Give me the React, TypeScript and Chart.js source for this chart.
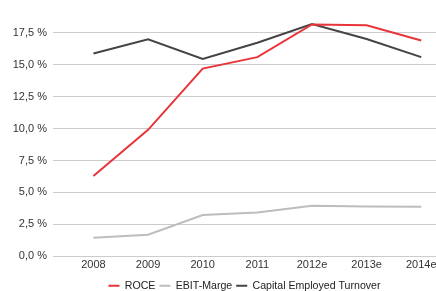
import React, { useEffect, useRef } from "react";
import { Chart, registerables } from "chart.js";

Chart.register(...registerables);

const categories = ["2008", "2009", "2010", "2011", "2012e", "2013e", "2014e"];
const roce = [6.28, 9.9, 14.7, 15.6, 18.16, 18.1, 16.9];
const ebitMarge = [1.45, 1.68, 3.22, 3.43, 3.95, 3.9, 3.88];
const capitalTurnover = [15.89, 17.0, 15.46, 16.73, 18.2, 17.02, 15.6];
const yTicks = [0, 2.5, 5, 7.5, 10, 12.5, 15, 17.5];

const toPoints = (arr: number[]) => arr.map((v, i) => ({ x: i, y: v }));
const FONT = "Liberation Sans, Arial, sans-serif";

export default function App() {
  const ref = useRef<HTMLCanvasElement | null>(null);
  useEffect(() => {
    document.body.style.margin = "0";
    const ctx = ref.current!;
    const mk = (label: string, data: number[], color: string) => ({
      label,
      data: toPoints(data),
      borderColor: color,
      backgroundColor: color,
      borderWidth: 2,
      pointRadius: 0,
      tension: 0,
    });
    const chart = new Chart(ctx, {
      type: "line",
      data: {
        datasets: [
          mk("ROCE", roce, "#e8353a"),
          mk("EBIT-Marge", ebitMarge, "#bdbdbd"),
          mk("Capital Employed Turnover", capitalTurnover, "#444444"),
        ],
      },
      options: {
        animation: false,
        responsive: false,
        maintainAspectRatio: false,
        layout: { padding: { top: 1, right: 0, left: 0, bottom: -10 } },
        plugins: {
          tooltip: { enabled: false },
          legend: {
            position: "bottom",
            fullSize: false,
            labels: {
              boxWidth: 11,
              boxHeight: 2,
              padding: 4,
              color: "#222",
              font: { family: FONT, size: 10.6 },
              generateLabels: (c: any) => {
                const items = Chart.defaults.plugins.legend.labels.generateLabels(c);
                return items.map((it: any) => ({ ...it, lineWidth: 0 }));
              },
            },
          },
        },
        scales: {
          x: {
            type: "linear",
            min: -0.74,
            max: 6.27,
            grid: { display: false, drawTicks: false },
            border: { display: false },
            afterBuildTicks: (axis: any) => {
              axis.ticks = categories.map((_, i) => ({ value: i }));
            },
            afterFit: (axis: any) => {
              axis.height += 3;
              axis.paddingLeft = 0;
              axis.paddingRight = 0;
            },
            ticks: {
              autoSkip: false,
              maxRotation: 0,
              padding: 2,
              color: "#333",
              font: { family: FONT, size: 11 },
              callback: (v: any) => categories[Math.round(Number(v))] ?? "",
            },
          },
          y: {
            min: 0,
            max: 20,
            afterBuildTicks: (axis: any) => {
              axis.ticks = yTicks.map((v) => ({ value: v }));
            },
            afterFit: (axis: any) => {
              axis.width = 53;
              axis.paddingTop = 0;
              axis.paddingBottom = 0;
            },
            grid: { color: "#cccccc", drawTicks: false, lineWidth: 1 },
            border: { display: false },
            ticks: {
              padding: 6,
              color: "#333",
              font: { family: FONT, size: 11 },
              callback: (v: any) => Number(v).toFixed(1).replace(".", ",") + " %",
            },
          },
        },
      },
    });
    return () => chart.destroy();
  }, []);
  return (
    <div style={{ width: 436, height: 291 }}>
      <canvas ref={ref} width={436} height={291} />
    </div>
  );
}
